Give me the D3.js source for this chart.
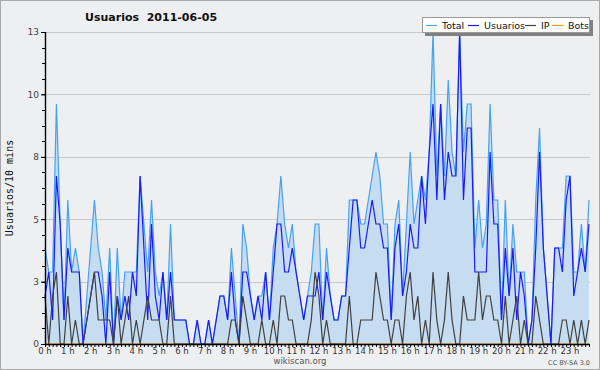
<!DOCTYPE html>
<html><head><meta charset="utf-8">
<script src="https://cdn.jsdelivr.net/npm/d3@7"></script>
<style>body{margin:0;background:#fff}svg{display:block}</style>
</head><body><svg id="c" width="600" height="370"></svg>
<script>
const title = "Usuarios  2011-06-05";
const yAxisTitle = "Usuarios/10 mins";
const hourLabels = ["0 h","1 h","2 h","3 h","4 h","5 h","6 h","7 h","8 h","9 h","10 h","11 h","12 h","13 h","14 h","15 h","16 h","17 h","18 h","19 h","20 h","21 h","22 h","23 h"];
const yTickValues = [0, 2.6, 5.2, 7.8, 10.4, 13];
const yTickLabels = ["0","3","5","8","10","13"];
const seriesNames = ["Total","Usuarios","IP","Bots"];
const total = [4,3,3,10,5,1,6,3,4,3, 0,2,4,6,4,3,1,4,0,4, 1,3,3,3,3,7,5,3,6,3, 2,3,1,5,1,1,1,1,0,0,
  1,0,0,1,0,1,2,2,1,4, 2,0,5,4,2,1,2,2,3,1, 4,5,7,5,4,5,3,2,1,2, 3,5,5,1,4,2,1,1,2,2,
  6,6,6,5,5,6,7,8,7,5, 5,1,5,6,2,5,8,5,6,7, 6,8,13,7,10,7,11,8,7,13, 8,10,10,4,6,4,5,10,6,6,
  1,6,2,5,3,3,3,0,1,6, 9,4,2,0,4,4,4,7,7,3, 3,5,3,6];
const usuarios = [2,3,1,7,5,1,4,3,3,3, 0,1,2,3,3,2,0,3,0,2, 1,2,1,3,2,7,4,1,5,2, 1,3,1,3,1,1,1,1,0,0,
  1,0,0,1,0,1,2,2,1,3, 1,0,3,3,2,1,2,1,3,1, 3,5,5,3,3,4,3,2,1,2, 2,2,3,1,3,2,1,1,2,2,
  4,6,6,4,4,5,6,5,5,4, 4,1,4,5,2,3,5,4,4,7, 5,8,10,6,10,6,8,7,7,13, 6,9,9,3,3,3,3,8,5,5,
  1,4,2,4,1,3,2,0,1,4, 8,4,2,0,4,4,3,6,7,2, 3,4,3,5];
const ip = [2,0,2,3,0,0,2,0,1,0, 0,1,2,3,1,1,1,1,0,2, 0,1,2,0,1,0,1,2,1,1, 1,0,0,2,0,0,0,0,0,0,
  0,0,0,0,0,0,0,0,0,1, 1,0,2,1,0,0,0,1,0,0, 1,0,2,2,1,1,0,0,0,0, 1,3,2,0,1,0,0,0,0,0,
  2,0,0,1,1,1,1,3,2,1, 1,0,1,1,0,2,3,1,2,0, 1,0,3,1,0,1,3,1,0,0, 2,1,1,1,3,1,2,2,1,1,
  0,2,0,1,2,0,1,0,0,2, 1,0,0,0,0,0,1,1,0,1, 0,1,0,1];
const bots = [0,0,0,0,0,0,0,0,0,0, 0,0,0,0,0,0,0,0,0,0, 0,0,0,0,0,0,0,0,0,0, 0,0,0,0,0,0,0,0,0,0,
  0,0,0,0,0,0,0,0,0,0, 0,0,0,0,0,0,0,0,0,0, 0,0,0,0,0,0,0,0,0,0, 0,0,0,0,0,0,0,0,0,0,
  0,0,0,0,0,0,0,0,0,0, 0,0,0,0,0,0,0,0,0,0, 0,0,0,0,0,0,0,0,0,0, 0,0,0,0,0,0,0,0,0,0,
  0,0,0,0,0,0,0,0,0,0, 0,0,0,0,0,0,0,0,0,0, 0,0,0,0];
const colors = {Total:"#45a2f4", Usuarios:"#1a1aff", IP:"#404040", Bots:"#ff9900", fill:"#c6dcf0"};

const svg = d3.select("#c");
const W = 600, H = 370;
const pL = 45, pR = 589, pT = 32, pB = 344;
const x = d3.scaleLinear().domain([0, total.length - 1]).range([pL, pR]);
const y = d3.scaleLinear().domain([0, 13]).range([pB, pT]);

svg.append("rect").attr("x",0.5).attr("y",0.5).attr("width",W-1).attr("height",H-1)
  .attr("fill","#eeeff1").attr("stroke","#a8a8a8");

// grid
svg.append("g").selectAll("line").data(yTickValues.filter(v=>v>0)).join("line")
  .attr("x1", pL).attr("x2", pR+1).attr("y1", d=>Math.round(y(d))+0.5).attr("y2", d=>Math.round(y(d))+0.5)
  .attr("stroke","#c9c9cb").attr("stroke-width",1);

const idx = d3.range(total.length);
const area = d3.area().x(i=>x(i)).y0(y(0)).y1(i=>y(total[i]));
svg.append("path").datum(idx).attr("d", area).attr("fill", colors.fill);

const line = arr => d3.line().x(i=>x(i)).y(i=>y(arr[i]));
const draw = (arr, c) => svg.append("path").datum(idx).attr("d", line(arr))
  .attr("fill","none").attr("stroke",c).attr("stroke-width",1.2).attr("stroke-linejoin","miter");
draw(bots, colors.Bots);
draw(total, colors.Total);
draw(usuarios, colors.Usuarios);
draw(ip, colors.IP);

// axes
const yAxis = d3.axisLeft(y).tickValues(yTickValues).tickSize(4).tickFormat((d,i)=>yTickLabels[i]);
const gy = svg.append("g").attr("transform",`translate(${pL},0)`).call(yAxis);
gy.select(".domain").remove();
gy.selectAll("text").attr("font-family","DejaVu Sans").attr("font-size","9px").attr("fill","#444").attr("dx","1");
gy.selectAll("line").attr("stroke","#000");
const minor = d3.range(0, 13.01, 0.65);
svg.append("g").selectAll("line").data(minor).join("line")
  .attr("x1", pL-3).attr("x2", pL).attr("y1", d=>Math.round(y(d))+0.5).attr("y2", d=>Math.round(y(d))+0.5)
  .attr("stroke","#000");
svg.append("line").attr("x1",pL+0.5).attr("x2",pL+0.5).attr("y1",pT).attr("y2",pB+1).attr("stroke","#000").attr("stroke-width",1.4);

const xAxis = d3.axisBottom(x).tickValues(idx).tickSize(3).tickFormat("");
const gx = svg.append("g").attr("transform",`translate(0,${pB})`).call(xAxis);
gx.select(".domain").remove();
gx.selectAll("line").attr("stroke","#000");
svg.append("line").attr("x1",pL).attr("x2",pR+1).attr("y1",pB+0.5).attr("y2",pB+0.5).attr("stroke","#000").attr("stroke-width",1.4);
svg.append("g").selectAll("text").data(hourLabels).join("text")
  .attr("x",(d,i)=>x(i*6)).attr("y",pB+10).attr("text-anchor","middle")
  .attr("font-family","DejaVu Sans").attr("font-size","8.5px").attr("fill","#333").text(d=>d);

// titles
svg.append("text").attr("x",85).attr("y",21).attr("font-family","DejaVu Sans").attr("font-weight","bold")
  .attr("font-size","11px").style("white-space","pre").attr("fill","#111").text(title);
svg.append("text").attr("transform","translate(13,188) rotate(-90)").attr("text-anchor","middle")
  .attr("font-family","DejaVu Sans Mono").attr("font-size","10px").attr("fill","#111").text(yAxisTitle);
svg.append("text").attr("x",300).attr("y",364).attr("text-anchor","middle").attr("font-family","DejaVu Sans")
  .attr("font-size","8.5px").attr("fill","#555").text("wikiscan.org");
svg.append("text").attr("x",590).attr("y",365).attr("text-anchor","end").attr("font-family","DejaVu Sans")
  .attr("font-size","6.5px").attr("fill","#555").text("CC BY-SA 3.0");

// legend
const lg = svg.append("g");
lg.append("rect").attr("x",425).attr("y",20).attr("width",168).attr("height",16).attr("fill","#808080");
lg.append("rect").attr("x",422.5).attr("y",17.5).attr("width",167).attr("height",15).attr("fill","#fff").attr("stroke","#999");
const legendX = [426, 468, 525, 552];
seriesNames.forEach((n,i)=>{
  lg.append("line").attr("x1",legendX[i]).attr("x2",legendX[i]+11).attr("y1",25.5).attr("y2",25.5)
    .attr("stroke",colors[n]).attr("stroke-width",1.2);
  lg.append("text").attr("x",legendX[i]+16).attr("y",29).attr("font-family","DejaVu Sans").attr("font-size","9.5px")
    .attr("fill","#111").text(n);
});
</script></body></html>
